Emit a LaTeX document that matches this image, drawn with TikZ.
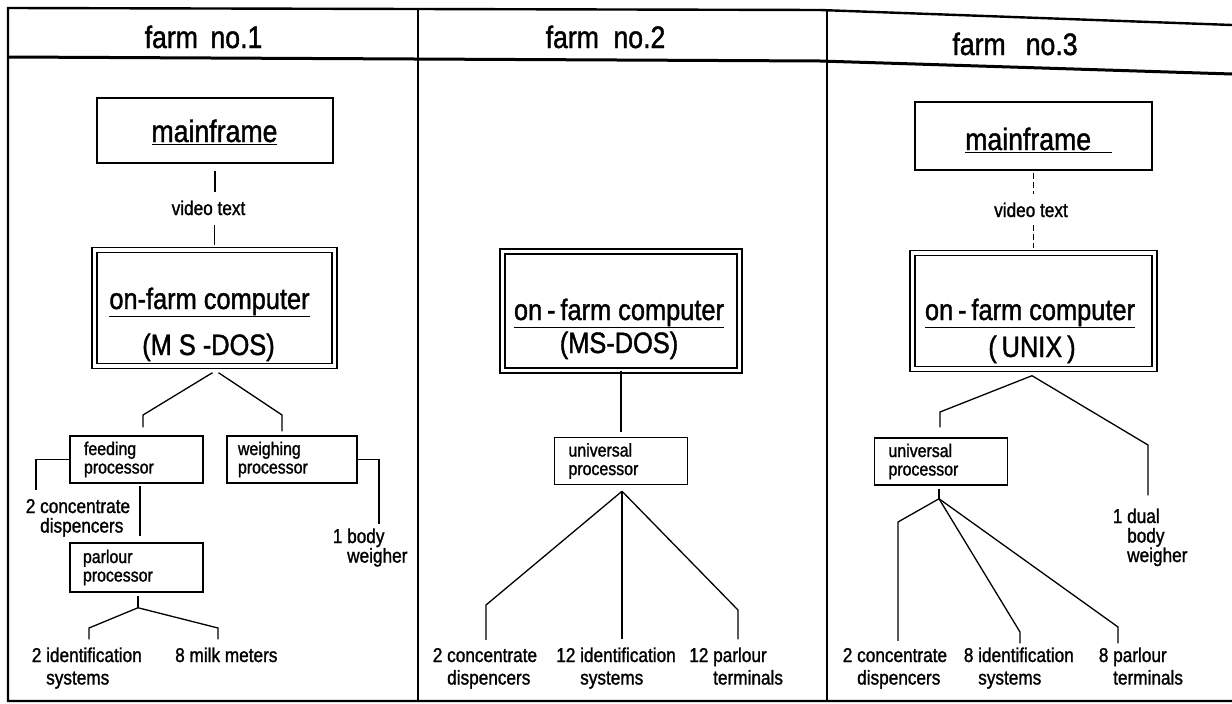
\documentclass[tikz,border=0pt]{standalone}
\usepackage{fontspec}
\setmainfont{Liberation Sans}[FakeStretch=0.86,FakeBold=1.3]
\usetikzlibrary{calc}
\newcommand\hfnt{\fontsize{31}{33}\selectfont}
\newcommand\bfnt{\fontsize{29.5}{33}\selectfont}
\newcommand\mfnt{\fontsize{31}{33}\selectfont}
\newcommand\pfnt{\fontsize{18.5}{18.5}\selectfont}
\newcommand\lfnt{\fontsize{20}{22.5}\selectfont}
\newcommand\lfntb{\fontsize{20}{19.5}\selectfont}
\begin{document}
\begin{tikzpicture}[x=1pt,y=-1pt,
  frameline/.style={line width=2.4pt},
  mbox/.style={draw,line width=1.6pt,inner sep=0pt},
  dbox/.style={draw,line width=1.4pt,double,double distance=3.4pt,inner sep=0pt},
  pbox/.style={draw,line width=1.5pt,align=left,font=\pfnt,inner ysep=0pt,minimum height=47pt,text width=105pt,inner xsep=14pt},
  conn/.style={line width=1.3pt},
  dconn/.style={conn,line width=1.6pt,dash pattern=on 6pt off 3pt},
  htxt/.style={font=\hfnt,inner sep=0pt,anchor=base},
  btxt/.style={font=\bfnt,inner sep=0pt,anchor=base},
  ltxt/.style={font=\lfnt,inner sep=0pt,anchor=base west,align=left},
]
\useasboundingbox (0,0) rectangle (1232,704);

% frame
\draw[frameline] (1232,25) -- (820,10) -- (8,8) -- (8,701) -- (1232,701);
\draw[frameline,line width=3pt] (8,57) -- (820,61) -- (1232,74);
\draw[frameline] (418,8.3) -- (418,701);
\draw[frameline] (827,10) -- (827,701);

% ---------------- farm 1
\node[htxt] (h1) at (203.5,48) {farm\hspace{12.5pt}no.1};
\node[mbox,minimum width=236pt,minimum height=65pt] (mf1) at (215,130.5) {};
\node[font=\mfnt,inner sep=0pt,anchor=base] (mf1t) at (214.5,142) {\underline{mainframe}};
\node[ltxt,anchor=base] (vt1) at (208.5,215) {video text};
\node[dbox,minimum width=240pt,minimum height=116pt] (oc1) at (214.5,308) {};
\node[btxt] (oc1a) at (209.5,309) {\underline{on-farm computer}};
\node[btxt] (oc1b) at (208.5,355) {(M S -DOS)};
\node[pbox] (fp1) at (136.5,459.5) {feeding\\processor};
\node[pbox,text width=108pt,inner xsep=11pt] (wp1) at (292,459.5) {weighing\\processor};
\node[pbox,minimum height=49pt,text width=107pt,inner xsep=13pt] (pp1) at (136.5,567.5) {parlour\\processor};
\node[ltxt,font=\lfntb] (cc1) at (40,532.5) {\llap{2 }concentrate\\dispencers};
\node[ltxt,font=\lfntb] (bw1) at (347,562.5) {\llap{1 }body\\weigher};
\node[ltxt] (id1) at (46,684.5) {\llap{2 }identification\\systems};
\node[ltxt] (mm1) at (175,662) {8 milk meters};

\draw[conn,shorten <=7pt,shorten >=8pt] (mf1.south) -- (mf1.south |- vt1.north);
\draw[conn,shorten <=10pt,shorten >=4pt] (oc1.north |- vt1.south) -- (oc1.north);
\coordinate (b1a) at (143,415);
\coordinate (b1b) at (282,415);
\draw[conn,shorten >=8pt] ($(oc1.south)+(-2,6)$) -- (b1a) -- (b1a |- fp1.north);
\draw[conn,shorten >=4pt] ($(oc1.south)+(4,6)$) -- (b1b) -- (b1b |- wp1.north);
\coordinate (e1a) at (36,490);
\draw[conn] (fp1.west) -| (e1a);
\draw[conn,shorten <=2pt,shorten >=6pt] ($(fp1.south)+(3.5,0)$) -- ($(pp1.north)+(3.5,0)$);
\coordinate (e1b) at (379,524);
\draw[conn] (wp1.east) -| (e1b);
\coordinate (a1) at ($(pp1.south)+(1.5,15)$);
\draw[conn,shorten <=3pt] ($(pp1.south)+(1.5,0)$) -- (a1);
\coordinate (b1c) at (89,628);
\coordinate (b1d) at (218,628);
\draw[conn,shorten >=8pt] (a1) -- (b1c) -- (b1c |- id1.north);
\draw[conn,shorten >=8pt] (a1) -- (b1d) -- (b1d |- mm1.north);

% ---------------- farm 2
\node[htxt] (h2) at (605.5,48) {farm\hspace{14.5pt}no.2};
\node[dbox,minimum width=237pt,minimum height=119pt] (oc2) at (621,311) {};
\node[btxt] (oc2a) at (619,320) {\underline{on\,-\,farm computer}};
\node[btxt] (oc2b) at (619,353) {(MS-DOS)};
\node[pbox] (up2) at (621,461) {universal\\processor};
\node[ltxt] (cd2) at (447,684.5) {\llap{2 }concentrate\\dispencers};
\node[ltxt] (id2) at (580,684.5) {\llap{12 }identification\\systems};
\node[ltxt] (pt2) at (713,684.5) {\llap{12 }parlour\\terminals};

\draw[conn,shorten >=5pt] (oc2.south) -- (up2.north);
\coordinate (a2) at ($(up2.south)+(1,6)$);
\coordinate (b2a) at (486,605);
\coordinate (b2b) at (738,610);
\draw[conn,shorten >=8pt] (a2) -- (b2a) -- (b2a |- cd2.north);
\draw[conn,shorten >=8pt] (a2) -- (a2 |- id2.north);
\draw[conn,shorten >=8pt] (a2) -- (b2b) -- (b2b |- pt2.north);

% ---------------- farm 3
\node[htxt] (h3) at (1015,55) {farm\hspace{20pt}no.3};
\node[mbox,minimum width=237pt,minimum height=68pt] (mf3) at (1033.5,136) {};
\node[font=\mfnt,inner sep=0pt,anchor=base west] (mf3t) at (965,150) {\underline{mainframe\hspace*{21pt}}};
\node[ltxt,anchor=base] (vt3) at (1031,217) {video text};
\node[dbox,minimum width=242pt,minimum height=116pt] (oc3) at (1033.5,311) {};
\node[btxt] (oc3a) at (1030,320) {\underline{on\,-\,farm computer}};
\node[btxt] (oc3b) at (1032,357) {(\,UNIX\,)};
\node[pbox] (up3) at (941,461.5) {universal\\processor};
\node[ltxt,font=\lfntb] (dw3) at (1127,562) {\llap{1 }dual\\body\\weigher};
\node[ltxt] (cd3) at (857,684.5) {\llap{2 }concentrate\\dispencers};
\node[ltxt] (id3) at (978,684.5) {\llap{8 }identification\\systems};
\node[ltxt] (pt3) at (1113,684.5) {\llap{8 }parlour\\terminals};

\draw[dconn,shorten <=2pt,shorten >=8pt] (mf3.south) -- (mf3.south |- vt3.north);
\draw[dconn,shorten <=8pt,shorten >=4pt] (oc3.north |- vt3.south) -- (oc3.north);
\coordinate (k3) at ($(oc3.south)+(-1.5,6)$);
\coordinate (b3a) at (940,412);
\coordinate (b3b) at (1148,445);
\draw[conn,shorten >=10pt] (k3) -- (b3a) -- (b3a |- up3.north);
\draw[conn,shorten >=13pt] (k3) -- (b3b) -- (b3b |- dw3.north);
\coordinate (a3) at ($(up3.south)+(-2,13)$);
\draw[conn,shorten <=3pt] ($(up3.south)+(-2,0)$) -- (a3);
\coordinate (b3c) at (898,522);
\coordinate (b3d) at (1020,632);
\coordinate (b3e) at (1118,627);
\draw[conn,shorten >=7pt] (a3) -- (b3c) -- (b3c |- cd3.north);
\draw[conn,shorten >=4pt] (a3) -- (b3d) -- (b3d |- id3.north);
\draw[conn,shorten >=4pt] (a3) -- (b3e) -- (b3e |- pt3.north);
\end{tikzpicture}
\end{document}
